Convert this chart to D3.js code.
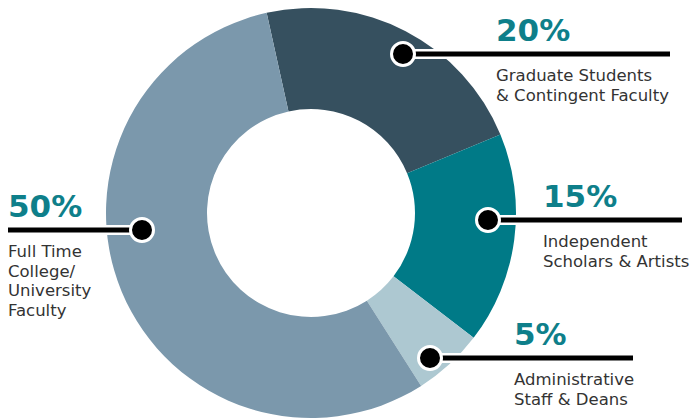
<!DOCTYPE html>
<html>
<head>
<meta charset="utf-8">
<script src="https://cdn.jsdelivr.net/npm/d3@7"></script>
<style>
  body { margin: 0; background: #fff; }
  svg { display: block; }
</style>
</head>
<body>
<div id="chart"></div>
<script>
// ---- data ----
const categories = [
  "Graduate Students & Contingent Faculty",
  "Independent Scholars & Artists",
  "Administrative Staff & Deans",
  "Full Time College/ University Faculty"
];
const values = [20, 15, 5, 50];
const percentLabels = ["20%", "15%", "5%", "50%"];
const labelLines = [
  ["Graduate Students", "& Contingent Faculty"],
  ["Independent", "Scholars & Artists"],
  ["Administrative", "Staff & Deans"],
  ["Full Time", "College/", "University", "Faculty"]
];
const colors = ["#36505f", "#007a87", "#adc8d1", "#7b98ac"];

// ---- layout (callout placement, not data) ----
const callouts = [
  { lineY: 54,  dotX: 403, lineEnd: 670, textX: 496 },
  { lineY: 220, dotX: 488, lineEnd: 682, textX: 543 },
  { lineY: 358, dotX: 430, lineEnd: 633, textX: 514 },
  { lineY: 230, dotX: 142, lineEnd: 8,   textX: 8 }
];

document.addEventListener("DOMContentLoaded", function() {
  const width = 699, height = 418;
  const cx = 311, cy = 213;
  const outerR = 205, innerR = 104;

  const svg = d3.select("#chart").append("svg")
    .attr("width", width)
    .attr("height", height)
    .attr("viewBox", [0, 0, width, height]);

  const pie = d3.pie()
    .sort(null)
    .value(d => d)
    .startAngle(-12.5 * Math.PI / 180)
    .endAngle((360 - 12.5) * Math.PI / 180);

  const arc = d3.arc().innerRadius(innerR).outerRadius(outerR);

  // donut slices
  svg.append("g")
    .attr("transform", `translate(${cx},${cy})`)
    .selectAll("path")
    .data(pie(values))
    .join("path")
    .attr("fill", (d, i) => colors[i])
    .attr("d", arc);

  // callouts
  const g = svg.append("g")
    .selectAll("g")
    .data(values.map((v, i) => ({ i, ...callouts[i] })))
    .join("g");

  // white halo under the leader line
  g.append("line")
    .attr("x1", d => d.dotX).attr("x2", d => d.lineEnd)
    .attr("y1", d => d.lineY).attr("y2", d => d.lineY)
    .attr("stroke", "#fff")
    .attr("stroke-width", 10);

  g.append("line")
    .attr("x1", d => d.dotX).attr("x2", d => d.lineEnd)
    .attr("y1", d => d.lineY).attr("y2", d => d.lineY)
    .attr("stroke", "#000")
    .attr("stroke-width", 5);

  g.append("circle")
    .attr("cx", d => d.dotX)
    .attr("cy", d => d.lineY)
    .attr("r", 11.5)
    .attr("fill", "#000")
    .attr("stroke", "#fff")
    .attr("stroke-width", 3);

  g.append("text")
    .attr("x", d => d.textX)
    .attr("y", d => d.lineY - 13)
    .attr("fill", "#0e7f8a")
    .style("font-family", "'DejaVu Sans', sans-serif")
    .style("font-weight", "bold")
    .style("font-size", "31px")
    .text(d => percentLabels[d.i]);

  g.each(function(d) {
    d3.select(this).append("text")
      .attr("fill", "#333")
      .style("font-family", "'DejaVu Sans', sans-serif")
      .style("font-size", "16.5px")
      .selectAll("tspan")
      .data(labelLines[d.i])
      .join("tspan")
      .attr("x", d.textX)
      .attr("y", (t, j) => d.lineY + 27 + j * 19.5)
      .text(t => t);
  });
});
</script>
</body>
</html>
